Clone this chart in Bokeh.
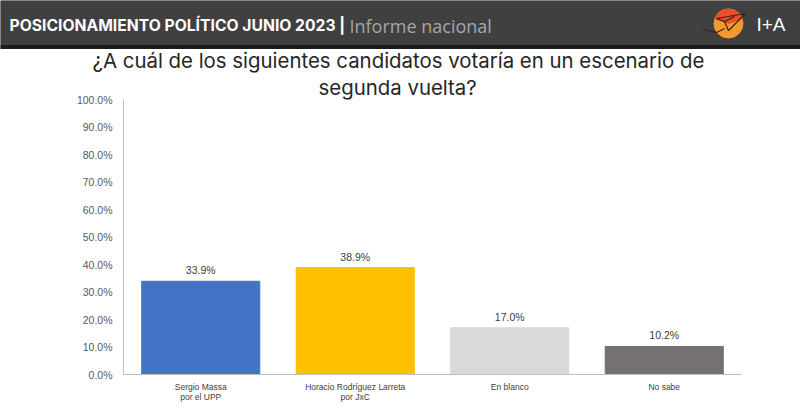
from bokeh.core.properties import value
from bokeh.embed import file_html
from bokeh.layouts import column
from bokeh.models import ColumnDataSource, Label, LabelSet, PrintfTickFormatter, Title
from bokeh.plotting import figure
from bokeh.resources import INLINE

categories = ["Sergio Massa\npor el UPP", "Horacio Rodríguez Larreta\npor JxC", "En blanco", "No sabe"]
values = [33.9, 38.9, 17.0, 10.2]
colors = ["#4472C4", "#FFC000", "#D9D9D9", "#767171"]
y_ticks = [0, 10, 20, 30, 40, 50, 60, 70, 80, 90, 100]
question = ["¿A cuál de los siguientes candidatos votaría en un escenario de", "segunda vuelta?"]

W = 800
HEAD = 49
OVERLAP = 4

# header band
h = figure(width=W, height=HEAD, x_range=(0, W), y_range=(HEAD, 0), toolbar_location=None,
           output_backend="svg", min_border=0, tools="", frame_align=False)
h.xaxis.visible = False
h.yaxis.visible = False
h.grid.visible = False
h.outline_line_color = None
h.quad(left=0, right=W, top=0, bottom=45, color="#404040")
h.quad(left=0, right=W, top=45, bottom=49, color="#1c1c1c")

h.add_layout(Label(x=9, y=25, text="POSICIONAMIENTO POLÍTICO JUNIO 2023 |", text_color="white",
                   text_font="Inter", text_font_style="bold", text_font_size="15.7px",
                   text_baseline="middle"))
h.add_layout(Label(x=349, y=25, text="Informe nacional", text_color="#a6a6a6",
                   text_font="Open Sans", text_font_size="18px", text_baseline="middle"))
h.add_layout(Label(x=756, y=24, text="I+A", text_color="white",
                   text_font="Liberation Sans", text_font_size="19px", text_baseline="middle"))

# logo
h.circle(x=[728], y=[23], radius=14.5, color="#F29A2E")
h.wedge(x=[728], y=[23], radius=14.5, start_angle=0.35, end_angle=2.8, color="#E8502A")
h.multi_line(xs=[[703, 716, 724], [716, 745, 728, 724, 716], [724, 734]],
             ys=[[29, 32, 28], [18, 13, 30, 21, 18], [21, 16]],
             line_color="#3a2412", line_width=1.2)

# chart, pulled up a little so the two title rows end where the frame should start
p = figure(width=W, height=411 - HEAD + OVERLAP, x_range=categories, y_range=(0, 100), toolbar_location=None,
           output_backend="svg", tools="", min_border_left=123, min_border_right=59,
           min_border_top=51, min_border_bottom=37, frame_align=False,
           border_fill_color=None, margin=(-OVERLAP, 0, 0, 0))
p.outline_line_color = None
p.grid.visible = False

source = ColumnDataSource(dict(cat=categories, val=values, color=colors,
                               label=[f"{v:.1f}%" for v in values]))
p.vbar(x="cat", top="val", width=0.764, color="color", source=source)
p.add_layout(LabelSet(x="cat", y="val", text="label", source=source, y_offset=5,
                      text_align="center", text_baseline="bottom", text_color="#404040",
                      text_font=value("Liberation Sans"), text_font_size=value("10.5px")))

p.yaxis.ticker = y_ticks
p.yaxis.formatter = PrintfTickFormatter(format="%.1f%%")
p.yaxis.major_tick_line_color = None
p.yaxis.minor_tick_line_color = None
p.yaxis.axis_line_color = "#BFBFBF"
p.yaxis.major_label_text_font = "Liberation Sans"
p.yaxis.major_label_text_font_size = "10.5px"
p.yaxis.major_label_text_color = "#595959"
p.yaxis.major_label_standoff = 5

p.xaxis.major_tick_line_color = None
p.xaxis.axis_line_color = "#BFBFBF"
p.xaxis.major_label_text_font = "Liberation Sans"
p.xaxis.major_label_text_font_size = "8.5px"
p.xaxis.major_label_text_color = "#404040"
p.xaxis.major_label_text_line_height = 1.0
p.xaxis.major_label_standoff = 1
p.xaxis.major_label_orientation = "horizontal"

# question, offsets count from the frame's left edge, the title added first sits next to the frame
for line, off in zip(question[::-1], [195, -31]):
    p.add_layout(Title(text=line, align="left", offset=off, text_color="#262626", text_font="Inter",
                       text_font_size="20.4px", text_font_style="normal", text_line_height=1.1,
                       standoff=0), "above")

out = column(h, p, spacing=0)
open("out.html", "w").write(file_html(out, INLINE))
